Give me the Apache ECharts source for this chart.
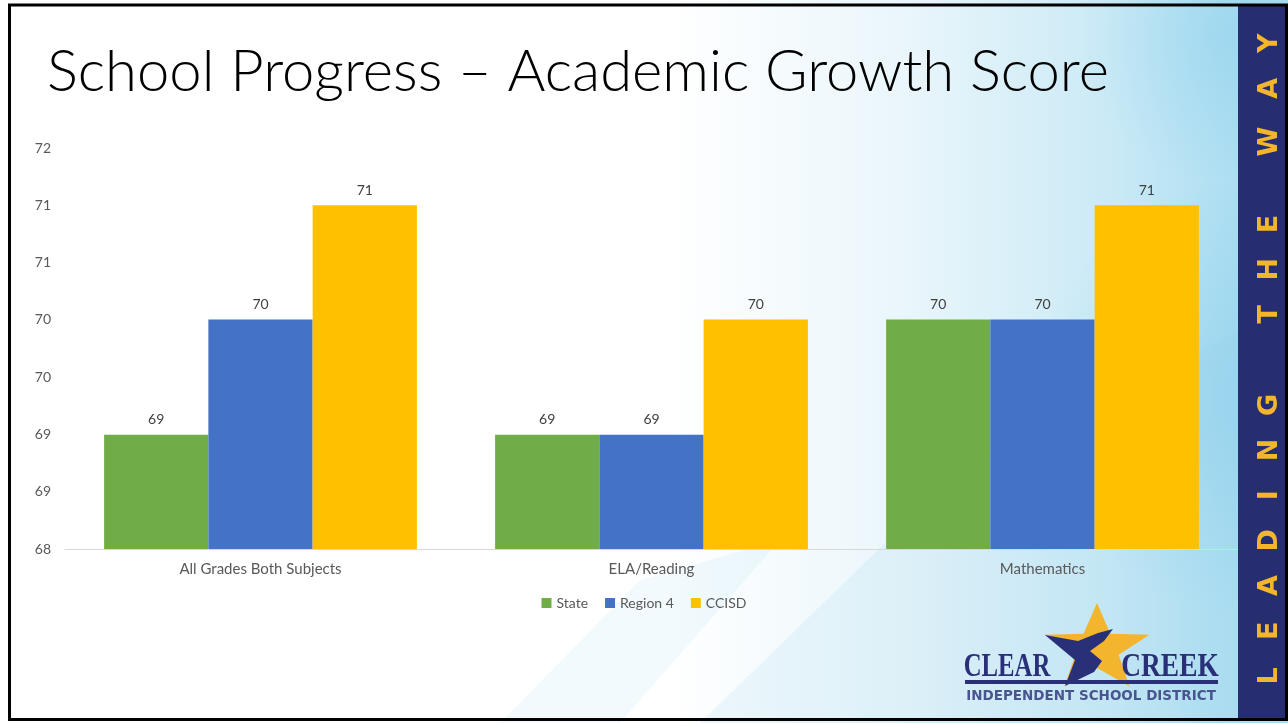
<!DOCTYPE html>
<html>
<head>
<meta charset="utf-8">
<script src="https://cdn.jsdelivr.net/npm/echarts@6/dist/echarts.min.js"></script>
<style>
html,body{margin:0;padding:0;background:#fff;}
#c{width:1288px;height:723px;}
</style>
</head>
<body>
<div id="c"></div>
<script>
// ---- data ----
const titleText = 'School Progress \u2013 Academic Growth Score';
const categories = ['All Grades Both Subjects', 'ELA/Reading', 'Mathematics'];
const seriesNames = ['State', 'Region 4', 'CCISD'];
const stateValues = [69.14, 69.14, 70.29];
const region4Values = [70.29, 69.14, 70.29];
const ccisdValues = [71.43, 70.29, 71.43];
const yMin = 68;
const yMax = 72;
const sideText = 'LEADING THE WAY';
const logoWords = ['CLEAR', 'CREEK'];
const logoSub = 'INDEPENDENT SCHOOL DISTRICT';

const colors = ['#70ad47', '#4472c4', '#ffc000'];
const FONT = 'Lato, "Open Sans", sans-serif';

const chart = echarts.init(document.getElementById('c'), null, {renderer: 'canvas'});

// side strip letters, reading bottom-to-top
const sideEls = [];
const letters = sideText.split('');
const yStart = 676, yStep = 45.2;
letters.forEach((ch, i) => {
  if (ch === ' ') return;
  sideEls.push({
    type: 'text',
    x: 1270, y: yStart - i * yStep + (ch === 'W' ? 8 : 0),
    rotation: Math.PI / 2,
    z: 5,
    silent: true,
    style: {
      text: ch, fill: '#f3b52d',
      font: 'bold 27px "DejaVu Sans", sans-serif',
      textAlign: 'center', textVerticalAlign: 'middle'
    }
  });
});

// star polygon points
function starPoints(cx, cy, R, r, sx) {
  const pts = [];
  for (let i = 0; i < 10; i++) {
    const ang = -Math.PI / 2 + i * Math.PI / 5;
    const rad = i % 2 === 0 ? R : r;
    pts.push([cx + sx * rad * Math.cos(ang), cy + rad * Math.sin(ang)]);
  }
  return pts;
}

const option = {
  animation: false,
  textStyle: {fontFamily: FONT},
  graphic: [
    // background
    {
      type: 'rect', z: -20, silent: true,
      shape: {x: 0, y: 0, width: 1288, height: 723},
      style: {
        fill: new echarts.graphic.LinearGradient(0, 0, 1, 0, [
          {offset: 0, color: '#ffffff'},
          {offset: 0.52, color: '#ffffff'},
          {offset: 0.7, color: '#eaf6fb'},
          {offset: 0.86, color: '#cbeaf6'},
          {offset: 0.96, color: '#addef1'},
          {offset: 1, color: '#addef1'}
        ])
      }
    },
    {
      type: 'rect', z: -19, silent: true,
      shape: {x: 0, y: 0, width: 1288, height: 723},
      style: {
        fill: new echarts.graphic.RadialGradient(0.97, 0.55, 0.3, [
          {offset: 0, color: 'rgba(110,195,232,0.35)'},
          {offset: 1, color: 'rgba(110,195,232,0)'}
        ])
      }
    },
    {
      type: 'rect', z: -19, silent: true,
      shape: {x: 0, y: 0, width: 1288, height: 723},
      style: {
        fill: new echarts.graphic.RadialGradient(0.95, 0.05, 0.2, [
          {offset: 0, color: 'rgba(110,195,232,0.25)'},
          {offset: 1, color: 'rgba(110,195,232,0)'}
        ])
      }
    },
    {
      type: 'polygon', z: -18, silent: true,
      shape: {points: [[700, 723], [960, 470], [1240, 330], [1240, 723]]},
      style: {fill: 'rgba(150,210,235,0.15)'}
    },
    {
      type: 'polygon', z: -18, silent: true,
      shape: {points: [[500, 723], [640, 580], [780, 540], [620, 723]]},
      style: {fill: 'rgba(170,220,240,0.15)'}
    },
    // side strip
    {
      type: 'rect', z: 4, silent: true,
      shape: {x: 1238, y: 4, width: 48, height: 716},
      style: {fill: '#262d70'}
    },
    ...sideEls,
    // border
    {
      type: 'rect', z: 6, silent: true,
      shape: {x: 9.5, y: 5, width: 1277, height: 714.5},
      style: {fill: 'none', stroke: '#000', lineWidth: 3}
    },
    // title
    {
      type: 'text', z: 5, silent: true,
      x: 47, y: 72,
      style: {
        text: titleText, fill: '#000',
        font: '300 58px ' + FONT,
        textVerticalAlign: 'middle'
      }
    },
    // logo star
    {
      type: 'polygon', z: 5, silent: true,
      shape: {points: starPoints(1097, 649, 46, 19, 1.2)},
      style: {fill: '#f3b52d'}
    },
    {
      type: 'polygon', z: 5, silent: true,
      shape: {points: [[1045, 635], [1078, 641], [1098, 633], [1113, 629], [1104, 641], [1090, 651], [1102, 661], [1094, 672], [1065, 686], [1075, 660]]},
      style: {fill: '#2a3078'}
    },
    {
      type: 'text', z: 6, silent: true,
      x: 1007, y: 667, scaleX: 0.75,
      style: {text: logoWords[0], fill: '#2a3078', font: 'bold 33px "Liberation Serif", "DejaVu Serif", serif', textAlign: 'center', textVerticalAlign: 'middle'}
    },
    {
      type: 'text', z: 6, silent: true,
      x: 1170, y: 667, scaleX: 0.83,
      style: {text: logoWords[1], fill: '#2a3078', font: 'bold 33px "Liberation Serif", "DejaVu Serif", serif', textAlign: 'center', textVerticalAlign: 'middle'}
    },
    {
      type: 'rect', z: 6, silent: true,
      shape: {x: 965, y: 680, width: 253, height: 4},
      style: {fill: '#2a3078'}
    },
    {
      type: 'text', z: 6, silent: true,
      x: 1091, y: 696,
      style: {text: logoSub, fill: '#4a5590', font: 'bold 13.5px "DejaVu Sans", sans-serif', textAlign: 'center', textVerticalAlign: 'middle'}
    }
  ],
  legend: {
    data: seriesNames,
    left: 'center',
    top: 591,
    itemWidth: 10,
    itemHeight: 10,
    itemGap: 17,
    icon: 'rect',
    textStyle: {color: '#595959', fontSize: 14, fontFamily: FONT}
  },
  grid: {left: 65, right: 50, top: 148, bottom: 174, containLabel: false},
  xAxis: {
    type: 'category',
    data: categories,
    axisLine: {lineStyle: {color: '#d9d9d9', width: 1}},
    axisTick: {show: false},
    axisLabel: {color: '#595959', fontSize: 15, margin: 13, fontFamily: FONT}
  },
  yAxis: {
    type: 'value',
    min: yMin,
    max: yMax,
    interval: (yMax - yMin) / 7,
    splitLine: {show: false},
    axisLine: {show: false},
    axisTick: {show: false},
    axisLabel: {
      color: '#595959', fontSize: 14, margin: 14, fontFamily: FONT,
      formatter: v => String(Math.round(v))
    }
  },
  series: [
    {name: seriesNames[0], data: stateValues},
    {name: seriesNames[1], data: region4Values},
    {name: seriesNames[2], data: ccisdValues}
  ].map((s, i) => ({
    type: 'bar',
    name: s.name,
    data: s.data,
    barGap: '0%',
    barCategoryGap: '20%',
    itemStyle: {color: colors[i]},
    label: {
      show: true, position: 'top', distance: 8,
      color: '#404040', fontSize: 14, fontFamily: FONT,
      formatter: p => String(Math.round(p.value))
    }
  }))
};
chart.setOption(option);
</script>
</body>
</html>
